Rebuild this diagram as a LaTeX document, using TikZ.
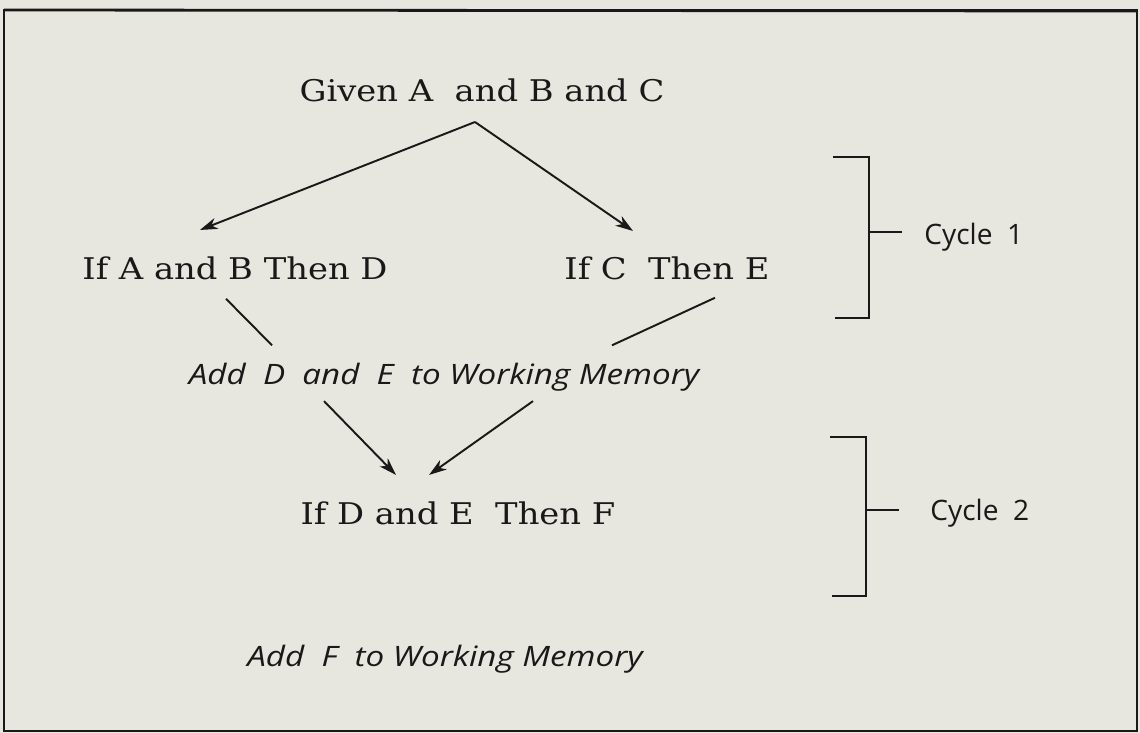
\documentclass[tikz,border=0pt]{standalone}
\usepackage{fontspec}
\setmainfont{DejaVu Serif}[FakeStretch=1.13]
\setsansfont{Open Sans}
\newfontfamily\memofont{Open Sans}[FakeStretch=1.18]
\usepackage{xcolor}
\usetikzlibrary{arrows.meta, positioning, calc}

\definecolor{paper}{RGB}{231,231,223}
\definecolor{ink}{RGB}{26,24,24}

\begin{document}
\begin{tikzpicture}[x=0.02cm, y=-0.02cm,
    rule/.style={font=\fontsize{17}{20}\selectfont, text=ink,
      anchor=base, inner sep=0pt},
    memo/.style={font=\memofont\itshape\fontsize{16}{20}\selectfont,
      text=ink, anchor=base, inner sep=0pt},
    cyclab/.style={font=\sffamily\fontsize{16}{20}\selectfont,
      text=ink, anchor=base west, inner sep=0pt},
    link/.style={draw=ink, line width=1.1pt},
    arr/.style={link, -{Stealth[length=10pt, width=6.5pt, inset=3pt]}},
]
% Paper and frame
\fill[paper] (0,0) rectangle (1140,733);
\draw[ink, line width=0.8pt] (4,10) rectangle (1137,731);
\draw[ink, line width=1.6pt] (4,10) -- (1137,11);

% Rules
\node[rule] (given) at (482,102) {Given A\ \ and B and C};
\node[rule] (ifab) at (235,280) {If A and B Then D};
\node[rule] (ifc) at (667,280) {If C\ \ Then E};
\node[rule] (ifde) at (458,524) {If D and E\ \ Then F};

% Working memory
\node[memo] (addde) at (444,384) {Add\ \ D\ \ and\ \ E\ \ to Working Memory};
\node[memo] (addf) at (445,666) {Add\ \ F\ \ to Working Memory};

% Cycle labels
\node[cyclab] (cyc1) at (924,245) {Cycle\ \ 1};
\node[cyclab] (cyc2) at (930,520) {Cycle\ \ 2};

% Firing
\coordinate (split) at (475,122);
\draw[arr] (split) -- ($(ifab.north)+(-35,-27)$);
\draw[arr] (split) -- ($(ifc.north)+(-34,-26)$);

\draw[link] ($(ifab.south)+(-9,18)$) -- ($(addde.north)+(-172,-17)$);
\draw[link] ($(ifc.south)+(48,17)$) -- ($(addde.north)+(168,-17)$);

\draw[arr] ($(addde.south)+(-120,10)$) -- ($(ifde.north)+(-62,-26)$);
\draw[arr] ($(addde.south)+(89,10)$) -- ($(ifde.north)+(-29,-26)$);

% Cycle brackets
\foreach \n/\top/\bot/\mid/\bx in {1/157/318/232/869, 2/437/596/510/866} {
  \draw[link] (\bx-36,\top) -- (\bx,\top) -- (\bx,\bot) -- (\bx-34,\bot);
  \draw[link] (\bx,\mid) -- (\bx+33,\mid);
}

\end{tikzpicture}
\end{document}
